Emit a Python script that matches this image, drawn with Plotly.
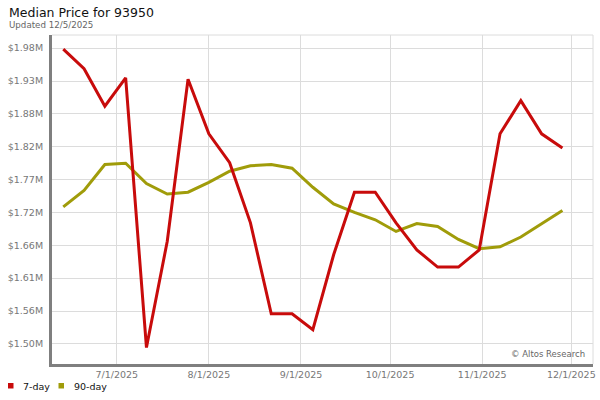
import plotly.graph_objects as go
import pandas as pd

# ---- data ----
dates = pd.date_range("2025-06-13", periods=25, freq="7D")
seven_day = [1.983, 1.951, 1.890, 1.936, 1.497, 1.670, 1.934, 1.845, 1.798, 1.700,
             1.552, 1.552, 1.526, 1.648, 1.750, 1.750, 1.700, 1.656, 1.628, 1.628,
             1.656, 1.845, 1.899, 1.845, 1.822]
ninety_day = [1.726, 1.753, 1.795, 1.797, 1.764, 1.747, 1.750, 1.766, 1.784, 1.793,
              1.795, 1.789, 1.758, 1.731, 1.717, 1.705, 1.686, 1.699, 1.694, 1.673,
              1.658, 1.661, 1.677, 1.698, 1.720]
y_tickvals = [1.503 + 0.0535 * k for k in range(10)]
y_ticktext = ["$1.50M", "$1.56M", "$1.61M", "$1.66M", "$1.72M",
              "$1.77M", "$1.82M", "$1.88M", "$1.93M", "$1.98M"]
x_tickvals = ["2025-07-01", "2025-08-01", "2025-09-01", "2025-10-01", "2025-11-01", "2025-12-01"]
x_ticktext = ["7/1/2025", "8/1/2025", "9/1/2025", "10/1/2025", "11/1/2025", "12/1/2025"]
series_names = ["7-day", "90-day"]
colors = ["#c80b0b", "#a09c0a"]

# ---- layout helpers ----
W, H = 600, 400
L, R, T, B = 52, 7, 35, 36
PW, PH = W - L - R, H - T - B

def xp(px):
    return (px - L) / PW

def yp(py):
    return (H - B - py) / PH

FONT = "DejaVu Sans"

fig = go.Figure()
fig.add_trace(go.Scatter(x=dates, y=ninety_day, mode="lines", name=series_names[1],
                         line=dict(color=colors[1], width=3), showlegend=False))
fig.add_trace(go.Scatter(x=dates, y=seven_day, mode="lines", name=series_names[0],
                         line=dict(color=colors[0], width=3), showlegend=False))

fig.update_layout(
    width=W, height=H,
    margin=dict(l=L, r=R, t=T, b=B, pad=0),
    paper_bgcolor="white", plot_bgcolor="white",
    font=dict(family=FONT, size=10, color="#000"),
    showlegend=False,
    xaxis=dict(
        range=["2025-06-09 05:00", "2025-12-08 07:00"],
        tickvals=x_tickvals, ticktext=x_ticktext,
        showgrid=True, gridcolor="#dcdcdc", gridwidth=1,
        showline=True, linecolor="#7f7f7f", linewidth=3,
        ticks="", tickfont=dict(family=FONT, size=9.5, color="#777"),
        zeroline=False, fixedrange=True, automargin=False,
    ),
    yaxis=dict(
        range=[1.4702, 2.0059],
        tickvals=y_tickvals, ticktext=y_ticktext,
        showgrid=True, gridcolor="#dcdcdc", gridwidth=1,
        showline=True, linecolor="#7f7f7f", linewidth=3,
        ticks="outside", ticklen=4, tickcolor="rgba(0,0,0,0)",
        tickfont=dict(family=FONT, size=9.5, color="#777"),
        zeroline=False, fixedrange=True, automargin=False,
    ),
)

shapes = [
    # top/right border
    dict(type="line", xref="paper", yref="paper", x0=0, x1=1, y0=1, y1=1,
         line=dict(color="#dcdcdc", width=1)),
    dict(type="line", xref="paper", yref="paper", x0=1, x1=1, y0=0, y1=1,
         line=dict(color="#dcdcdc", width=1)),
    # legend swatches
    dict(type="rect", xref="paper", yref="paper", x0=xp(8), x1=xp(13.5), y0=yp(388.5), y1=yp(383),
         fillcolor=colors[0], line=dict(width=0)),
    dict(type="rect", xref="paper", yref="paper", x0=xp(58.5), x1=xp(64), y0=yp(388.5), y1=yp(383),
         fillcolor=colors[1], line=dict(width=0)),
]
fig.update_layout(shapes=shapes)

annotations = [
    dict(text="Median Price for 93950", xref="paper", yref="paper", x=xp(6.5), y=yp(13),
         xanchor="left", yanchor="middle", showarrow=False,
         font=dict(family=FONT, size=12.5, color="#111")),
    dict(text="Updated 12/5/2025", xref="paper", yref="paper", x=xp(6.5), y=yp(25),
         xanchor="left", yanchor="middle", showarrow=False,
         font=dict(family=FONT, size=8.7, color="#666")),
    dict(text=series_names[0], xref="paper", yref="paper", x=xp(20.5), y=yp(386),
         xanchor="left", yanchor="middle", showarrow=False,
         font=dict(family=FONT, size=9.5, color="#111")),
    dict(text=series_names[1], xref="paper", yref="paper", x=xp(71.5), y=yp(386),
         xanchor="left", yanchor="middle", showarrow=False,
         font=dict(family=FONT, size=9.5, color="#111")),
    dict(text="© Altos Research", xref="paper", yref="paper", x=xp(587), y=yp(354),
         xanchor="right", yanchor="middle", showarrow=False,
         font=dict(family=FONT, size=8.5, color="#666")),
]
fig.update_layout(annotations=annotations)

fig.write_html("out.html", config={"displayModeBar": False},
               post_script="document.body.style.margin='0';document.body.style.padding='0';")
